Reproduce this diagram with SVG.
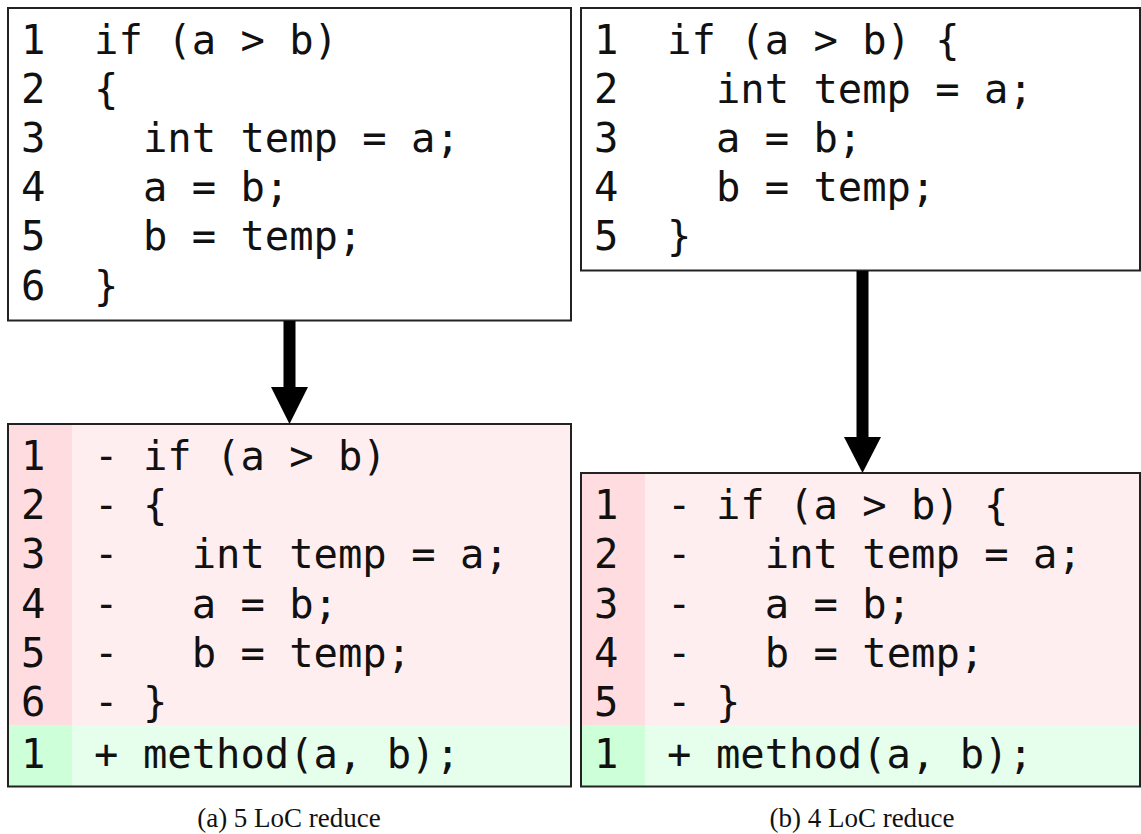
<svg xmlns="http://www.w3.org/2000/svg" width="1141" height="834" viewBox="0 0 1141 834">
<defs>
<style>
.box{fill:#ffffff;stroke:#222;stroke-width:2}
.frame{fill:none;stroke:#222;stroke-width:2}
.code{font-family:"DejaVu Sans Mono","Liberation Mono",monospace;font-size:40.5px;fill:#111}
.delbg{fill:#ffeef0}
.delnum{fill:#ffdce0}
.addbg{fill:#e6ffed}
.addnum{fill:#cdffd8}
.cap{font-family:"Liberation Serif","DejaVu Serif",serif;font-size:27px;fill:#111;text-anchor:middle}
.arrow{fill:#000}
</style>
</defs>
<rect x="0" y="0" width="1141" height="834" fill="#ffffff"/>

<g id="orig-a">
<rect class="box" x="8" y="8" width="563" height="312.5"/>
<g class="code">
<text x="21" y="53.5">1</text><text x="94.1" y="53.5">if (a &gt; b)</text>
<text x="21" y="102.7">2</text><text x="94.1" y="102.7">{</text>
<text x="21" y="151.9">3</text><text x="142.9" y="151.9">int temp = a;</text>
<text x="21" y="201.1">4</text><text x="142.9" y="201.1">a = b;</text>
<text x="21" y="250.3">5</text><text x="142.9" y="250.3">b = temp;</text>
<text x="21" y="299.5">6</text><text x="94.1" y="299.5">}</text>
</g>
</g>

<g id="orig-b">
<rect class="box" x="581" y="8" width="559" height="262.5"/>
<g class="code">
<text x="594" y="53.5">1</text><text x="667.1" y="53.5">if (a &gt; b) {</text>
<text x="594" y="102.7">2</text><text x="715.9" y="102.7">int temp = a;</text>
<text x="594" y="151.9">3</text><text x="715.9" y="151.9">a = b;</text>
<text x="594" y="201.1">4</text><text x="715.9" y="201.1">b = temp;</text>
<text x="594" y="250.3">5</text><text x="667.1" y="250.3">}</text>
</g>
</g>

<g id="diff-a">
<rect class="delbg" x="8" y="424" width="563" height="301"/>
<rect class="delnum" x="8" y="424" width="64" height="301"/>
<rect class="addbg" x="8" y="725" width="563" height="61.5"/>
<rect class="addnum" x="8" y="725" width="64" height="61.5"/>
<rect class="frame" x="8" y="424" width="563" height="362.5"/>
<g class="code">
<text x="21" y="470">1</text><text x="94.1" y="470">-</text><text x="142.9" y="470">if (a &gt; b)</text>
<text x="21" y="519.2">2</text><text x="94.1" y="519.2">-</text><text x="142.9" y="519.2">{</text>
<text x="21" y="568.4">3</text><text x="94.1" y="568.4">-</text><text x="191.7" y="568.4">int temp = a;</text>
<text x="21" y="617.6">4</text><text x="94.1" y="617.6">-</text><text x="191.7" y="617.6">a = b;</text>
<text x="21" y="666.8">5</text><text x="94.1" y="666.8">-</text><text x="191.7" y="666.8">b = temp;</text>
<text x="21" y="716">6</text><text x="94.1" y="716">-</text><text x="142.9" y="716">}</text>
<text x="21" y="768">1</text><text x="94.1" y="768">+</text><text x="142.9" y="768">method(a, b);</text>
</g>
</g>

<g id="diff-b">
<rect class="delbg" x="581" y="473" width="559" height="252"/>
<rect class="delnum" x="581" y="473" width="64" height="252"/>
<rect class="addbg" x="581" y="725" width="559" height="61.5"/>
<rect class="addnum" x="581" y="725" width="64" height="61.5"/>
<rect class="frame" x="581" y="473" width="559" height="313.5"/>
<g class="code">
<text x="594" y="519.2">1</text><text x="667.1" y="519.2">-</text><text x="715.9" y="519.2">if (a &gt; b) {</text>
<text x="594" y="568.4">2</text><text x="667.1" y="568.4">-</text><text x="764.8" y="568.4">int temp = a;</text>
<text x="594" y="617.6">3</text><text x="667.1" y="617.6">-</text><text x="764.8" y="617.6">a = b;</text>
<text x="594" y="666.8">4</text><text x="667.1" y="666.8">-</text><text x="764.8" y="666.8">b = temp;</text>
<text x="594" y="716">5</text><text x="667.1" y="716">-</text><text x="715.9" y="716">}</text>
<text x="594" y="768">1</text><text x="667.1" y="768">+</text><text x="715.9" y="768">method(a, b);</text>
</g>
</g>

<g id="connectors">
<rect class="arrow" x="283.5" y="321" width="12" height="67"/>
<polygon class="arrow" points="271,387 308,387 289.5,424"/>
<rect class="arrow" x="856.5" y="271" width="12" height="167"/>
<polygon class="arrow" points="844,437 881,437 862.5,473"/>
</g>

<g id="captions">
<text class="cap" x="289" y="827">(a) 5 LoC reduce</text>
<text class="cap" x="862" y="827">(b) 4 LoC reduce</text>
</g>
</svg>
